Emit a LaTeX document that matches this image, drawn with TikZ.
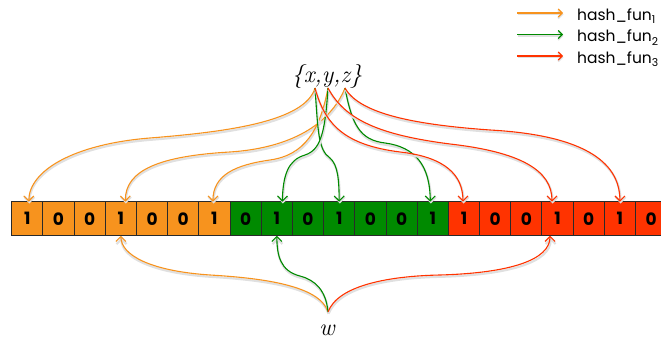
\documentclass[tikz,border=0pt]{standalone}
\usepackage{fontspec}
\usetikzlibrary{arrows.meta}
\newfontfamily\legendfont{Poppins}
\definecolor{hOrange}{HTML}{F7931E}
\definecolor{hGreen}{HTML}{008A00}
\definecolor{hRed}{HTML}{FF3300}
\definecolor{cellLine}{HTML}{2A2A2A}
\tikzset{
  bitcell/.style={draw=cellLine, line width=0.9pt, minimum width=31.19pt,
    minimum height=34pt, inner sep=0pt, outer sep=0pt,
    font=\legendfont\bfseries\fontsize{17}{17}\selectfont},
  hashline/.style={line width=1.1pt, -{Straight Barb[length=5pt,width=10pt]},
    preaction={draw=black!12, line width=2.2pt,
      transform canvas={shift={(0.6,1.8)}}}},
  legendline/.style={line width=1.1pt, -{Straight Barb[length=4pt,width=8pt]},
    preaction={draw=black!12, line width=2pt,
      transform canvas={shift={(0.5,1.4)}}}},
  legendtext/.style={anchor=base west, inner sep=0pt,
    font=\legendfont\fontsize{15.5}{15.5}\selectfont},
  setlabel/.style={anchor=base, inner sep=0pt,
    font=\fontsize{24}{24}\selectfont\itshape}
}
\begin{document}
\begin{tikzpicture}[x=1pt,y=-1pt]
  \useasboundingbox (0,0) rectangle (661,345);
  \clip (0,0) rectangle (661,345);

  % bit array: three colour blocks of seven cells
  \foreach \b [count=\i] in {1,0,0,1,0,0,1, 0,1,0,1,0,0,1, 1,0,0,1,0,1,0} {
    \ifnum\i<8 \def\cc{hOrange}\else\ifnum\i<15 \def\cc{hGreen}\else\def\cc{hRed}\fi\fi
    \node[bitcell, fill=\cc] (c\i) at ({11.7+31.19*(\i-0.5)},218.7) {\b};
  }

  % element labels
  \node[setlabel] (xyz) at (327,82) {\{x,y,z\}};
  \node[setlabel] (w) at (327,335) {w};
  \coordinate (xo) at (315,88);
  \coordinate (yo) at (328,88);
  \coordinate (zo) at (345,88);
  \coordinate (wo) at (328,312);

  % hash_fun_1
  \draw[hashline, hOrange] (xo) .. controls (305,122) and (225,132) .. (150,138)
        .. controls (75,144) and (29,170) .. ([xshift=1.5pt]c1.north);
  \draw[hashline, hOrange] (zo) .. controls (330,125) and (290,148) .. (230,152)
        .. controls (160,156) and (125,170) .. ([xshift=4.5pt]c4.north);
  \draw[hashline, hOrange] (yo) .. controls (320,130) and (305,155) .. (270,160)
        .. controls (235,165) and (213,175) .. ([xshift=-1.5pt]c7.north);

  % hash_fun_2
  \draw[hashline, hGreen] (xo) .. controls (318,130) and (318,150) .. (330,158)
        .. controls (338,165) and (339,180) .. (c11.north);
  \draw[hashline, hGreen] (yo) .. controls (325,135) and (320,150) .. (305,155)
        .. controls (288,160) and (283,175) .. ([xshift=5.5pt]c9.north);
  \draw[hashline, hGreen] (zo) .. controls (352,125) and (360,140) .. (385,143)
        .. controls (415,147) and (430,165) .. ([xshift=-2.5pt]c14.north);

  % hash_fun_3
  \draw[hashline, hRed] (xo) .. controls (325,125) and (345,145) .. (400,152)
        .. controls (445,157) and (463,175) .. ([xshift=-1pt]c15.north);
  \draw[hashline, hRed] (yo) .. controls (345,120) and (380,135) .. (450,144)
        .. controls (520,152) and (552,170) .. ([xshift=-5.5pt]c18.north);
  \draw[hashline, hRed] (zo) .. controls (360,115) and (420,125) .. (490,130)
        .. controls (580,135) and (620,160) .. (c20.north);

  % lookups for w
  \draw[hashline, hOrange] (wo) .. controls (320,285) and (260,278) .. (210,275)
        .. controls (150,271) and (121,255) .. (c4.south);
  \draw[hashline, hGreen] (wo) .. controls (326,290) and (315,280) .. (300,276)
        .. controls (280,271) and (277,255) .. (c9.south);
  \draw[hashline, hRed] (wo) .. controls (338,285) and (390,276) .. (440,275)
        .. controls (510,273) and (550,260) .. ([xshift=-7.5pt]c18.south);

  % legend
  \foreach \k/\cc/\yy in {1/hOrange/13, 2/hGreen/34.5, 3/hRed/56} {
    \coordinate (ls\k) at (517,\yy);
    \coordinate (le\k) at (563,\yy);
    \draw[legendline, \cc] (ls\k) -- (le\k);
    \node[legendtext] (lt\k) at (577,\yy+7.5) {hash\_fun\textsubscript{\k}};
  }
\end{tikzpicture}
\end{document}
